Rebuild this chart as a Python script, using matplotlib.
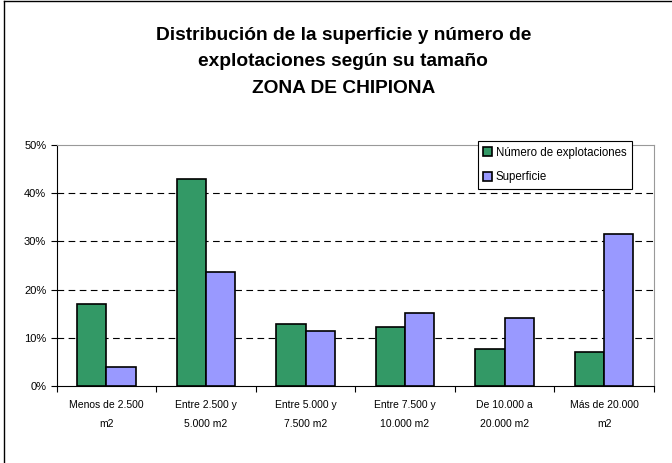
import numpy as np
import matplotlib.pyplot as plt
from matplotlib.lines import Line2D

plt.rcParams['font.family'] = ['Liberation Sans', 'DejaVu Sans']

# datos
categorias = ["Menos de 2.500\nm2", "Entre 2.500 y\n5.000 m2", "Entre 5.000 y\n7.500 m2",
              "Entre 7.500 y\n10.000 m2", "De 10.000 a\n20.000 m2", "Más de 20.000\nm2"]
num_explotaciones = [17.0, 42.9, 12.9, 12.2, 7.7, 7.0]
superficie = [4.0, 23.7, 11.5, 15.2, 14.1, 31.5]

fig = plt.figure(figsize=(6.72, 4.63), dpi=100)
ax = fig.add_axes([0.0844, 0.1663, 0.973 - 0.0844, 0.6868 - 0.1663])

x = np.arange(len(categorias))
w = 0.295
ax.bar(x - w / 2, num_explotaciones, w, color='#339966', edgecolor='black', linewidth=1.2,
       label='Número de explotaciones', zorder=3)
ax.bar(x + w / 2, superficie, w, color='#9999FF', edgecolor='black', linewidth=1.2,
       label='Superficie', zorder=3)

ax.set_xlim(-0.5, len(categorias) - 0.5)
ax.set_ylim(0, 50)
ax.set_yticks([0, 10, 20, 30, 40, 50])
ax.set_yticklabels([f"{v}%" for v in [0, 10, 20, 30, 40, 50]], fontsize=8)

# marcas en los límites de categoría, etiquetas en el centro
ax.set_xticks(np.arange(-0.5, len(categorias), 1.0))
ax.set_xticklabels([])
ax.set_xticks(x, minor=True)
ax.set_xticklabels(categorias, minor=True, fontsize=7.5, linespacing=2.2)
ax.tick_params(axis='x', which='minor', length=0, pad=10)
ax.tick_params(axis='both', which='major', length=4, width=0.8, direction='out')

for v in [10, 20, 30, 40]:
    ax.axhline(v, color='black', linestyle=(0, (6, 4)), linewidth=0.8, zorder=1)

ax.spines['top'].set_color('#999999')
ax.spines['right'].set_color('#999999')
ax.spines['left'].set_color('black')
ax.spines['bottom'].set_color('black')

leg = ax.legend(loc='upper left', bbox_to_anchor=(0.705, 1.017), fontsize=8.3, frameon=True,
                fancybox=False, edgecolor='black', framealpha=1, handlelength=0.75,
                handleheight=0.75, handletextpad=0.3, borderpad=0.5, labelspacing=1.1,
                borderaxespad=0)
leg.get_frame().set_linewidth(0.8)

fig.text(0.511, 0.942, "Distribución de la superficie y número de\nexplotaciones según su tamaño\nZONA DE CHIPIONA",
         ha='center', va='top', fontsize=13.8, fontweight='bold', linespacing=1.72)

# borde del gráfico
fig.add_artist(Line2D([0.006, 0.006], [0, 0.998], color='black', linewidth=1, transform=fig.transFigure))
fig.add_artist(Line2D([0.006, 1], [0.998, 0.998], color='black', linewidth=1, transform=fig.transFigure))

fig.savefig('out.png', dpi=100)
